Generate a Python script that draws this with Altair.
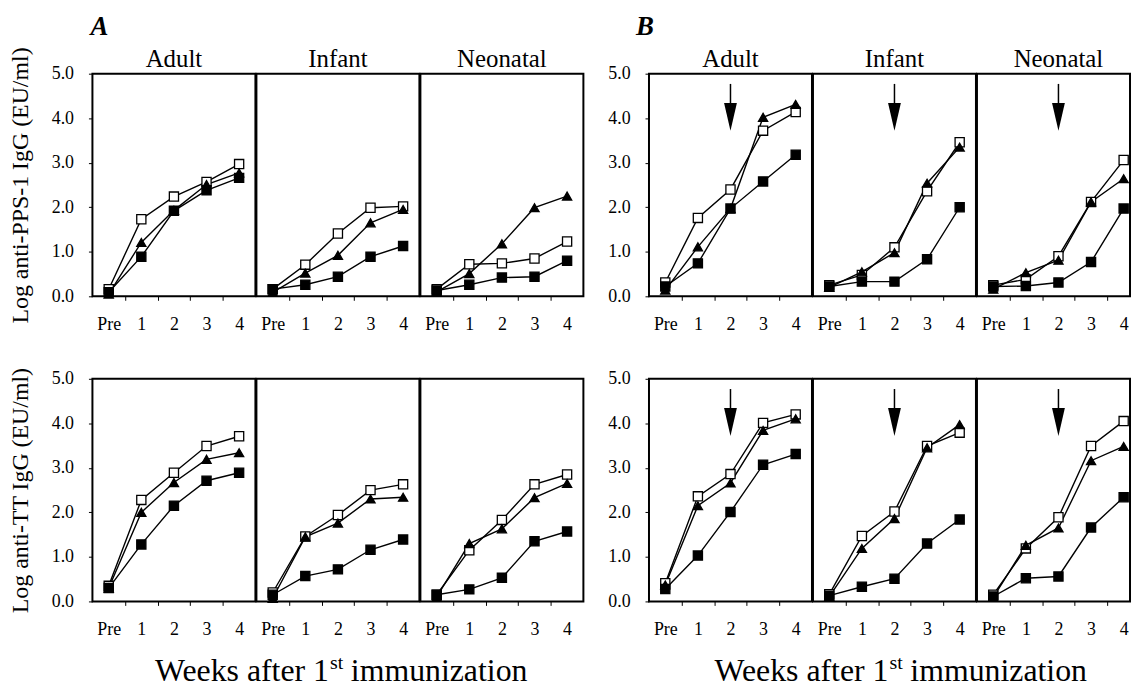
import altair as alt
import pandas as pd

FONT = "Liberation Serif"

# ---------------- data ----------------
week_pos = [0, 1, 2, 3, 4]
week_names = ["Pre", "1", "2", "3", "4"]
ages = ["Adult", "Infant", "Neonatal"]
series_names = ["open square", "filled triangle", "filled square"]
series_shapes = ["square", "triangle-up", "square"]
series_fills = ["white", "black", "black"]

# Panel A, anti-PPS-1
A_pps_adult = {"open": [0.16, 1.73, 2.24, 2.57, 2.97], "tri": [0.05, 1.21, 1.93, 2.51, 2.77], "filled": [0.09, 0.89, 1.92, 2.38, 2.66]}
A_pps_infant = {"open": [0.16, 0.71, 1.41, 1.99, 2.02], "tri": [0.09, 0.52, 0.92, 1.65, 1.95], "filled": [0.16, 0.26, 0.44, 0.89, 1.13]}
A_pps_neonatal = {"open": [0.16, 0.72, 0.74, 0.85, 1.23], "tri": [0.10, 0.51, 1.18, 1.99, 2.25], "filled": [0.13, 0.26, 0.42, 0.44, 0.80]}
# Panel A, anti-TT
A_tt_adult = {"open": [0.35, 2.28, 2.89, 3.49, 3.71], "tri": [0.30, 2.00, 2.67, 3.19, 3.34], "filled": [0.30, 1.28, 2.15, 2.71, 2.89]}
A_tt_infant = {"open": [0.20, 1.46, 1.94, 2.50, 2.63], "tri": [0.07, 1.45, 1.76, 2.30, 2.34], "filled": [0.15, 0.57, 0.72, 1.16, 1.39]}
A_tt_neonatal = {"open": [0.15, 1.15, 1.83, 2.63, 2.85], "tri": [0.10, 1.30, 1.63, 2.33, 2.65], "filled": [0.15, 0.27, 0.53, 1.35, 1.57]}
# Panel B, anti-PPS-1
B_pps_adult = {"open": [0.31, 1.76, 2.40, 3.72, 4.14], "tri": [0.14, 1.11, 1.97, 4.02, 4.31], "filled": [0.22, 0.74, 1.97, 2.58, 3.18]}
B_pps_infant = {"open": [0.25, 0.48, 1.10, 2.36, 3.46], "tri": [0.20, 0.55, 0.98, 2.54, 3.35], "filled": [0.22, 0.33, 0.33, 0.83, 2.00]}
B_pps_neonatal = {"open": [0.25, 0.38, 0.90, 2.12, 3.06], "tri": [0.16, 0.53, 0.81, 2.12, 2.64], "filled": [0.22, 0.23, 0.31, 0.77, 1.97]}
# Panel B, anti-TT
B_tt_adult = {"open": [0.41, 2.36, 2.86, 4.01, 4.20], "tri": [0.37, 2.15, 2.66, 3.84, 4.10], "filled": [0.28, 1.03, 2.01, 3.07, 3.31]}
B_tt_infant = {"open": [0.16, 1.47, 2.02, 3.49, 3.79], "tri": [0.11, 1.19, 1.86, 3.45, 3.97], "filled": [0.13, 0.33, 0.51, 1.30, 1.84]}
B_tt_neonatal = {"open": [0.15, 1.19, 1.89, 3.49, 4.05], "tri": [0.09, 1.26, 1.65, 3.16, 3.48], "filled": [0.11, 0.52, 0.56, 1.66, 2.34]}

# booster arrows in panel B (week 2)
arrow_week = [2]
arrow_top = [4.77]
arrow_shaft_end = [4.25]
arrow_head_center = [4.03]

group_letters = ["A", "B"]
y_titles = {"pps": "Log anti-PPS-1 IgG (EU/ml)", "tt": "Log anti-TT IgG (EU/ml)"}
x_title_parts = ["Weeks after 1", "st", "immunization"]

panel_data = {
    ("A", "pps"): [A_pps_adult, A_pps_infant, A_pps_neonatal],
    ("A", "tt"): [A_tt_adult, A_tt_infant, A_tt_neonatal],
    ("B", "pps"): [B_pps_adult, B_pps_infant, B_pps_neonatal],
    ("B", "tt"): [B_tt_adult, B_tt_infant, B_tt_neonatal],
}

PANEL_W = 164
PANEL_H = 224
UNIT = PANEL_W / 5.0
PAD_LEFT = 7
ORIGIN_X = 93  # left edge of the first plot area in the page


def panel(group, assay, age_i):
    vals = panel_data[(group, assay)][age_i]
    rows = []
    for s_name, key in zip(series_names, ["open", "tri", "filled"]):
        for wk, v in zip(week_pos, vals[key]):
            rows.append({"week": wk, "val": v, "series": s_name})
    df = pd.DataFrame(rows)

    w = PANEL_W
    xmax = 4.5
    if group == "B" and age_i == 2:
        w = 154
        xmax = 4.5 - (PANEL_W - w) / UNIT

    xscale = alt.Scale(domain=[-0.5, xmax], nice=False, zero=False)
    xaxis = alt.Axis(
        title=None,
        values=[0, 0.5, 1, 1.5, 2, 2.5, 3, 3.5, 4],
        labelExpr="datum.value == 0 ? 'Pre' : (datum.value % 1 == 0 ? '' + datum.value : '')",
        tickOpacity={"condition": {"test": "datum.value % 1 == 0", "value": 0}, "value": 1},
        tickSize=4,
        labelPadding=15,
        labelOverlap=False,
        labelFlush=False,
        labelBound=False,
    )
    yscale = alt.Scale(domain=[0, 5], nice=False, zero=False)
    if age_i == 0:
        yaxis = alt.Axis(
            title=y_titles[assay] if group == "A" else None,
            values=[0, 1, 2, 3, 4, 5],
            format=".1f",
            tickSize=4,
            labelPadding=15,
            titlePadding=19,
            labelFlush=False,
        )
    else:
        yaxis = None

    def X(field):
        return alt.X(field, type="quantitative", scale=xscale, axis=xaxis)

    def Y(field):
        return alt.Y(field, type="quantitative", scale=yscale, axis=yaxis)

    base = alt.Chart(df)
    lines = base.mark_line(color="black", strokeWidth=1.4).encode(
        x=X("week"), y=Y("val"), detail="series:N"
    )
    points = base.mark_point(filled=True, opacity=1, stroke="black", strokeWidth=1.3, size=85).encode(
        x=X("week"),
        y=Y("val"),
        shape=alt.Shape("series:N", scale=alt.Scale(domain=series_names, range=series_shapes), legend=None),
        fill=alt.Fill("series:N", scale=alt.Scale(domain=series_names, range=series_fills), legend=None),
    )
    layers = [lines, points]

    if group == "B":
        adf = pd.DataFrame({"week": arrow_week, "top": arrow_top, "end": arrow_shaft_end, "head": arrow_head_center})
        shaft = alt.Chart(adf).mark_rule(color="black", strokeWidth=1.5).encode(
            x=X("week"), y=Y("top"), y2="end:Q"
        )
        head = alt.Chart(adf).mark_point(
            shape="M-0.46,-1L0.46,-1L0,1Z", size=784, filled=True, color="black", opacity=1
        ).encode(x=X("week"), y=Y("head"))
        layers += [shaft, head]

    if assay == "pps":
        ttl = alt.Chart(pd.DataFrame({"t": [ages[age_i]]})).mark_text(
            align="center", baseline="alphabetic", font=FONT, fontSize=25, color="black"
        ).encode(text="t:N", x=alt.value(PANEL_W / 2), y=alt.value(-7))
        layers.append(ttl)

    return alt.layer(*layers).properties(width=w, height=PANEL_H)


def group(g, assay):
    return alt.hconcat(*[panel(g, assay, i) for i in range(3)], spacing=-2)


row1 = alt.hconcat(group("A", "pps"), group("B", "pps"), spacing=22)
row2 = alt.hconcat(group("A", "tt"), group("B", "tt"), spacing=22)

# group letters A / B above the panels (x relative to first plot origin)
letter_x = [91 - ORIGIN_X, 640 - ORIGIN_X]
LT_H = 23
letter_layers = []
for letter, lx in zip(group_letters, letter_x):
    letter_layers.append(
        alt.Chart(pd.DataFrame({"t": [letter]})).mark_text(
            align="left", baseline="alphabetic", font=FONT, fontSize=27,
            fontWeight="bold", fontStyle="italic", color="black"
        ).encode(text="t:N", x=alt.value(lx), y=alt.value(LT_H))
    )
letters = alt.layer(*letter_layers).properties(
    width=900, height=LT_H, view=alt.ViewBackground(stroke="transparent")
)

# x-axis titles ("Weeks after 1st immunization") under each group
title_centers = [341 - ORIGIN_X, 904 - ORIGIN_X]
XT_H = 28
XT_BASE = 29
xt_layers = []
for c in title_centers:
    t1 = alt.Chart(pd.DataFrame({"t": [x_title_parts[0]]})).mark_text(
        align="right", baseline="alphabetic", font=FONT, fontSize=32, color="black"
    ).encode(text="t:N", x=alt.value(c - 10), y=alt.value(XT_BASE))
    t2 = alt.Chart(pd.DataFrame({"t": [x_title_parts[1]]})).mark_text(
        align="left", baseline="alphabetic", font=FONT, fontSize=20, color="black"
    ).encode(text="t:N", x=alt.value(c - 9), y=alt.value(XT_BASE - 12))
    t3 = alt.Chart(pd.DataFrame({"t": [x_title_parts[2]]})).mark_text(
        align="left", baseline="alphabetic", font=FONT, fontSize=32, color="black"
    ).encode(text="t:N", x=alt.value(c + 12), y=alt.value(XT_BASE))
    xt_layers += [t1, t2, t3]
xtitles = alt.layer(*xt_layers).properties(
    width=900, height=XT_H, view=alt.ViewBackground(stroke="transparent")
)

top_block = alt.vconcat(letters, row1, spacing=5)
plots = alt.vconcat(top_block, row2, spacing=32)
chart = alt.vconcat(plots, xtitles, spacing=12).properties(
    padding={"left": PAD_LEFT, "top": 9, "right": 0, "bottom": 0},
    background="white",
).configure_view(
    stroke="black", strokeWidth=2
).configure_axis(
    labelFont=FONT, labelFontSize=18, labelColor="black",
    tickColor="black", tickWidth=1,
    titleFont=FONT, titleFontSize=24, titleFontWeight="normal", titleColor="black",
    domain=False, grid=False,
)

chart.save("out.html", embed_options={"renderer": "svg", "actions": False})
